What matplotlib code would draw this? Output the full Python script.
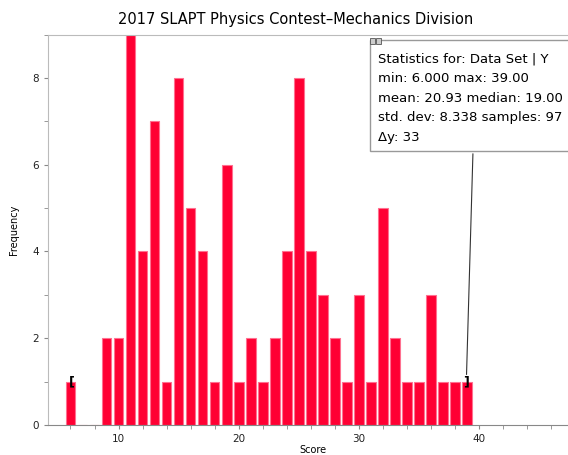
import numpy as np
import matplotlib
matplotlib.use("Agg")
import matplotlib.pyplot as plt
from matplotlib.ticker import MultipleLocator

# histogram of contest scores (score -> number of students)
scores = list(range(6, 40))
counts = [1, 0, 0, 2, 2, 9, 4, 7, 1, 8, 5, 4, 1, 6, 1, 2, 1, 2, 4, 8,
          4, 3, 2, 1, 3, 1, 5, 2, 1, 1, 3, 1, 1, 1]

stats_lines = ["Statistics for: Data Set | Y",
               "min: 6.000 max: 39.00",
               "mean: 20.93 median: 19.00",
               "std. dev: 8.338 samples: 97",
               "\u0394y: 33"]

plt.rcParams['font.family'] = ['DejaVu Sans']

W, H = 568, 455
fig = plt.figure(figsize=(W/100, H/100), dpi=100)
ax = fig.add_axes([48/W, 1-425/H, 1-48/W, (425-34.5)/H])

ax.bar(scores, counts, width=0.8, color='#ff0033', edgecolor='#ff7090', linewidth=0.8, zorder=2)

ax.set_xlim(4.13, 47.4)
ax.set_ylim(0, 9)

ax.xaxis.set_major_locator(MultipleLocator(10))
ax.xaxis.set_minor_locator(MultipleLocator(2))
ax.yaxis.set_major_locator(MultipleLocator(2))
ax.yaxis.set_minor_locator(MultipleLocator(1))
ax.tick_params(which='both', direction='out', color='#888888', length=3,
               labelsize=7.5, labelcolor='#222222')

for s in ['left', 'top']:
    ax.spines[s].set_color('#bbbbbb')
ax.spines['right'].set_visible(False)
ax.spines['bottom'].set_color('#888888')

ax.set_xlabel('Score', fontsize=7)
ax.set_ylabel('Frequency', fontsize=7)
ax.xaxis.set_label_coords(0.51, -0.052)
ax.yaxis.set_label_coords(-0.056, 0.5)

fig.text(296/W, 1-19.5/H, '2017 SLAPT Physics Contest\u2013Mechanics Division',
         ha='center', va='center', fontsize=10.5)

# range brackets on the first and last bar
ax.text(scores[0] + 0.15, counts[0], '[', ha='center', va='center', fontsize=9, fontweight='bold')
ax.text(scores[-1] - 0.1, counts[-1], ']', ha='center', va='center', fontsize=9, fontweight='bold')

# statistics box with leader line
box_l, box_t, box_b = 370/W, 1-40/H, 1-151/H
fig.patches.append(plt.Rectangle((box_l, box_b), 1-box_l+0.01, box_t-box_b,
                                 transform=fig.transFigure, facecolor='white',
                                 edgecolor='#999999', linewidth=1, zorder=5))
for x0 in (370, 376):
    fig.patches.append(plt.Rectangle((x0/W, 1-44/H), 5/W, 6/H, transform=fig.transFigure,
                                     facecolor='#cccccc', edgecolor='#555555', linewidth=0.6, zorder=6))
for i, line in enumerate(stats_lines):
    fig.text(378/W, 1-(59 + 19.5*i)/H, line, ha='left', va='center', fontsize=9.5, zorder=7)

ax.annotate('', xy=(scores[-1] - 0.05, counts[-1] + 0.1), xycoords='data',
            xytext=(473/W, box_b), textcoords='figure fraction',
            arrowprops=dict(arrowstyle='-', color='#333333', lw=0.8))

fig.savefig('out.png', dpi=100)
